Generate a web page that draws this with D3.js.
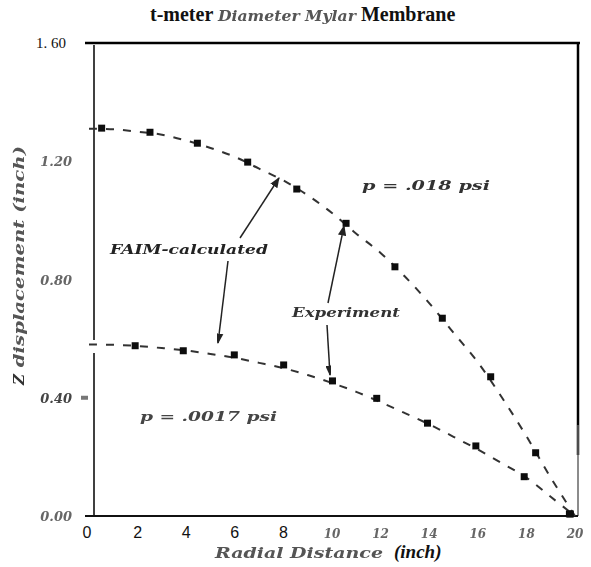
<!DOCTYPE html>
<html>
<head>
<meta charset="utf-8">
<script src="https://cdn.jsdelivr.net/npm/d3@7/dist/d3.min.js"></script>
<style>
  html, body { margin: 0; padding: 0; background: #fff; }
  svg { display: block; }
</style>
</head>
<body>
<svg id="chart" width="591" height="567"></svg>
<script>
// Radial positions (inch) of the measured points
const expRadiusHigh = [0.52, 2.51, 4.46, 6.53, 8.55, 10.58, 12.59, 14.54, 16.53, 18.38, 19.77];
const expDispHigh   = [1.312, 1.298, 1.261, 1.197, 1.106, 0.990, 0.843, 0.669, 0.471, 0.214, 0.007];
const expRadiusLow  = [1.90, 3.88, 5.98, 8.01, 10.02, 11.84, 13.93, 15.92, 17.91, 19.81];
const expDispLow    = [0.576, 0.559, 0.545, 0.511, 0.457, 0.398, 0.314, 0.237, 0.133, 0.007];

// FAIM-calculated deflection profiles
const calcRadius    = [0, 1, 2, 3, 4, 5, 6, 7, 8, 9, 10, 11, 12, 13, 14, 15, 16, 17, 18, 19, 20];
const calcDispHigh  = [1.31, 1.308, 1.30, 1.29, 1.27, 1.245, 1.215, 1.175, 1.135, 1.085, 1.025, 0.955, 0.89, 0.81, 0.72, 0.62, 0.52, 0.40, 0.27, 0.13, 0.0];
const calcDispLow   = [0.58, 0.579, 0.575, 0.568, 0.56, 0.548, 0.535, 0.518, 0.50, 0.477, 0.45, 0.42, 0.385, 0.348, 0.31, 0.268, 0.225, 0.178, 0.13, 0.065, 0.0];

const xTicks = [0, 2, 4, 6, 8, 10, 12, 14, 16, 18, 20];
const yTicks = [0.00, 0.40, 0.80, 1.20, 1.60];

const svg = d3.select("#chart");

const defs = svg.append("defs");
defs.append("filter").attr("id", "soft")
  .attr("x", "-10%").attr("y", "-30%").attr("width", "120%").attr("height", "160%")
  .append("feGaussianBlur").attr("stdDeviation", 0.55);
defs.append("marker").attr("id", "head")
  .attr("viewBox", "0 0 10 10").attr("refX", 9).attr("refY", 5)
  .attr("markerWidth", 7).attr("markerHeight", 7).attr("orient", "auto-start-reverse")
  .append("path").attr("d", "M0,1 L10,5 L0,9 Z").attr("fill", "#222");

const x = d3.scaleLinear().domain([0, 20]).range([89, 575]);
const y = d3.scaleLinear().domain([0, 1.6]).range([516, 43]);

const serif = "'Liberation Serif', 'DejaVu Serif', serif";
const slab = "'DejaVu Serif', 'Liberation Serif', serif";
const sans = "'Liberation Sans', Arial, sans-serif";

// ---- title ----
const title = svg.append("text").attr("x", 150).attr("y", 21)
  .attr("font-family", serif).attr("font-weight", "bold").attr("font-size", 20).attr("fill", "#111");
title.append("tspan").text("t-meter ");
title.append("tspan").text("Diameter Mylar")
  .attr("font-family", slab).attr("font-style", "italic").attr("font-size", 14)
  .attr("fill", "#555").attr("filter", "url(#soft)")
  .attr("textLength", 138).attr("lengthAdjust", "spacingAndGlyphs");
title.append("tspan").text(" Membrane");

// ---- frame ----
svg.append("line").attr("x1", 85).attr("x2", 580).attr("y1", y(1.6)).attr("y2", y(1.6))
  .attr("stroke", "#000").attr("stroke-width", 2.5);
svg.append("line").attr("x1", 578).attr("x2", 578).attr("y1", y(1.6)).attr("y2", 455)
  .attr("stroke", "#000").attr("stroke-width", 2.5);
svg.append("line").attr("x1", 578).attr("x2", 578).attr("y1", 425).attr("y2", 516)
  .attr("stroke", "#666").attr("stroke-width", 1.5);

// ---- y axis (left), drawn with d3.axisLeft for the ticks ----
const yMinor = d3.range(0, 34).map(i => +(i * 0.04).toFixed(2))
  .filter(v => v < 0.44 || v > 0.56);
const yAxisG = svg.append("g").attr("transform", "translate(94,0)")
  .call(d3.axisLeft(y).tickValues(yMinor).tickSize(6).tickFormat(""));
yAxisG.select(".domain").remove();
yAxisG.selectAll(".tick line").attr("stroke", "#444").attr("stroke-width", 1.4)
  .attr("filter", "url(#soft)");
// axis line, with the small breaks of the original drawing
[[y(1.6) + 2, 340], [353, 455], [455, 516]].forEach(([a, b]) => {
  svg.append("line").attr("x1", 94).attr("x2", 94).attr("y1", a).attr("y2", b)
    .attr("stroke", "#000").attr("stroke-width", 1.5);
});
svg.append("rect").attr("x", 81).attr("y", y(0.40) - 2).attr("width", 7).attr("height", 4)
  .attr("fill", "#777");

// y tick labels
yTicks.forEach(v => {
  if (v === 1.6) {
    svg.append("text").attr("x", 66).attr("y", y(v) + 5).attr("text-anchor", "end")
      .attr("font-family", serif).attr("font-size", 15).attr("fill", "#111").text("1. 60");
  } else {
    svg.append("text").attr("x", 72).attr("y", y(v) + 5).attr("text-anchor", "end")
      .attr("font-family", slab).attr("font-style", "italic").attr("font-weight", "bold")
      .attr("font-size", 13).attr("fill", v === 0.4 ? "#444" : "#666")
      .attr("filter", "url(#soft)").text(d3.format(".2f")(v));
  }
});

// ---- x axis ----
const xMinor = d3.range(0, 41).map(i => i * 0.5);
const xAxisG = svg.append("g").attr("transform", `translate(0,${y(0)})`)
  .call(d3.axisBottom(x).tickValues(xMinor).tickSize(5).tickFormat(""));
xAxisG.select(".domain").remove();
xAxisG.selectAll(".tick line").attr("stroke", "#333").attr("stroke-width", 1.3)
  .attr("filter", "url(#soft)");
svg.append("line").attr("x1", 85).attr("x2", 578).attr("y1", y(0)).attr("y2", y(0))
  .attr("stroke", "#111").attr("stroke-width", 1.8);

xTicks.forEach(v => {
  const t = svg.append("text").attr("x", x(v) + (v === 0 ? -2 : 0)).attr("y", 538)
    .attr("text-anchor", "middle").text(v);
  if (v < 10) {
    t.attr("font-family", sans).attr("font-size", 16).attr("fill", "#111");
  } else {
    t.attr("font-family", slab).attr("font-style", "italic").attr("font-weight", "bold")
      .attr("font-size", 12).attr("fill", "#666").attr("filter", "url(#soft)");
  }
});

// ---- axis titles ----
svg.append("text").attr("x", 215).attr("y", 558)
  .attr("font-family", slab).attr("font-style", "italic").attr("font-weight", "bold")
  .attr("font-size", 15).attr("fill", "#555").attr("filter", "url(#soft)")
  .attr("textLength", 168).attr("lengthAdjust", "spacingAndGlyphs").text("Radial Distance");
svg.append("text").attr("x", 394).attr("y", 558)
  .attr("font-family", serif).attr("font-style", "italic").attr("font-weight", "bold")
  .attr("font-size", 19).attr("fill", "#111").text("(inch)");

const yTitle = svg.append("text").attr("transform", "translate(24,385) rotate(-90)")
  .attr("font-family", slab).attr("font-style", "italic").attr("font-weight", "bold")
  .attr("font-size", 15).attr("fill", "#555").attr("filter", "url(#soft)");
yTitle.append("tspan").text("Z").attr("fill", "#333");
yTitle.append("tspan").text(" displacement  (inch)")
  .attr("textLength", 228).attr("lengthAdjust", "spacingAndGlyphs");

// ---- calculated profiles (dashed) ----
const line = d3.line().x(d => x(d[0])).y(d => y(d[1])).curve(d3.curveCatmullRom);
[calcDispHigh, calcDispLow].forEach(vals => {
  svg.append("path").datum(calcRadius.map((r, i) => [r, vals[i]]))
    .attr("d", line).attr("fill", "none").attr("stroke", "#333")
    .attr("stroke-width", 2).attr("stroke-dasharray", "8,9")
    .attr("filter", "url(#soft)");
});

// ---- measured points ----
[[expRadiusHigh, expDispHigh], [expRadiusLow, expDispLow]].forEach(([rs, ds]) => {
  svg.append("g").selectAll("rect").data(rs.map((r, i) => [r, ds[i]])).join("rect")
    .attr("x", d => x(d[0]) - 3.5).attr("y", d => y(d[1]) - 3.5)
    .attr("width", 7).attr("height", 7).attr("fill", "#111")
    .attr("filter", "url(#soft)");
});

// ---- annotations ----
function label(txt, x0, y0, w, size, color) {
  svg.append("text").attr("x", x0).attr("y", y0)
    .attr("font-family", slab).attr("font-style", "italic").attr("font-weight", "bold")
    .attr("font-size", size).attr("fill", color).attr("filter", "url(#soft)")
    .attr("textLength", w).attr("lengthAdjust", "spacingAndGlyphs").text(txt);
}
label("p = .018 psi", 362, 190, 128, 12, "#333");
label("p = .0017 psi", 140, 421, 137, 12, "#444");
label("FAIM-calculated", 110, 254, 158, 12, "#222");
label("Experiment", 292, 317, 108, 12, "#333");

function arrow(x1, y1, x2, y2) {
  svg.append("line").attr("x1", x1).attr("y1", y1).attr("x2", x2).attr("y2", y2)
    .attr("stroke", "#222").attr("stroke-width", 1.5)
    .attr("marker-end", "url(#head)").attr("filter", "url(#soft)");
}
arrow(240, 238, 279, 178);
arrow(228, 261, 218, 343);
arrow(328, 303, 344, 226);
arrow(327, 325, 330, 375);
</script>
</body>
</html>
